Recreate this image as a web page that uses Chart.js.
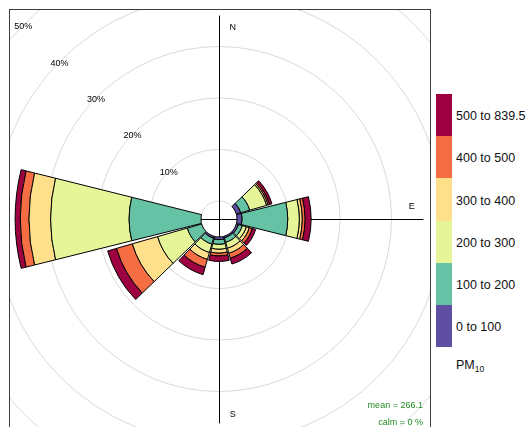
<!DOCTYPE html>
<html>
<head>
<meta charset="utf-8">
<title>PM10 pollution rose</title>
<script src="https://cdn.jsdelivr.net/npm/chart.js@4.4.1/dist/chart.umd.min.js"></script>
<style>
  html, body { margin: 0; padding: 0; background: #fff; }
  body { width: 528px; height: 427px; position: relative; overflow: hidden;
         font-family: "Liberation Sans", Arial, sans-serif; }
  #panel { position: absolute; left: 9px; top: 9px; width: 422px; height: 440px;
           border: 1px solid #3c3c3c; box-sizing: border-box; overflow: hidden; }
  #rose { position: absolute; left: -71px; top: -71px; }
  #key { position: absolute; left: 436px; top: 94px; }
  .swatch { position: absolute; left: 0; width: 16px; }
  .keylab { position: absolute; left: 20px; font-size: 12.5px; color: #111;
            white-space: nowrap; line-height: 14px; }
  #keytitle { position: absolute; left: 456px; top: 358px; font-size: 12.5px; color: #111; }
  #keytitle sub { font-size: 8.5px; vertical-align: -3px; }
</style>
</head>
<body>
<div id="panel"><canvas id="rose" width="560" height="560"></canvas></div>
<div id="key"></div>
<div id="keytitle">PM<sub>10</sub></div>
<script>
// Wind direction bins (degrees, clockwise from north)
const directions = [0, 30, 60, 90, 120, 150, 180, 210, 240, 270, 300, 330];

// PM10 concentration bands and their colours
const bandLabels  = ['0 to 100', '100 to 200', '200 to 300', '300 to 400', '400 to 500', '500 to 839.5'];
const bandColours = ['#5E4FA2', '#66C2A5', '#E6F598', '#FEE08B', '#F46D43', '#9E0142'];

// Frequency (% of hours) in each band, per direction bin
const pm0to100   = [0, 0, 0.85, 0.95, 0.40, 0.30, 0.50, 0.35, 0.0, 0.00, 0, 0];
const pm100to200 = [0, 0, 1.85, 8.90, 0.80, 0.90, 0.90, 1.20, 2.9, 13.96, 0, 0];
const pm200to300 = [0, 0, 3.40, 2.25, 0.80, 1.20, 0.95, 1.70, 6.0, 15.24, 0, 0];
const pm300to400 = [0, 0, 0.30, 0.55, 0.60, 1.00, 0.75, 1.40, 5.1, 4.20, 0, 0];
const pm400to500 = [0, 0, 0.30, 0.55, 0.60, 1.00, 0.55, 1.60, 3.2, 1.70, 0, 0];
const pm500plus  = [0, 0, 0.50, 1.20, 0.70, 1.20, 1.10, 1.50, 1.8, 1.00, 0, 0];

const bandValues = [pm0to100, pm100to200, pm200to300, pm300to400, pm400to500, pm500plus];

// Radial grid (percent) and summary statistics
const gridPercents = [10, 20, 30, 40, 50];
const meanPM10 = 266.1;
const calmPercent = 0;

// ---- radial scale: a hole of 10% of the largest petal sits at the centre ----
const HOLE_PX = 18;          // radius of the central hole
const PX_PER_PERCENT = 5.15; // radial scale
const CANVAS_R = 280;        // half the canvas size (scale drawing area)
const R_MIN = -HOLE_PX / PX_PER_PERCENT;
const R_MAX = R_MIN + CANVAS_R / PX_PER_PERCENT;
const WEDGE_GAP_DEG = 1;     // white gap on each side of a petal

// stack the bands: each dataset holds its cumulative top, plus its base
const totals = directions.map((_, j) => bandValues.reduce((s, b) => s + b[j], 0));
const maxTotal = Math.max(...totals);
const datasets = bandValues.map((vals, b) => {
  const base = directions.map((_, j) => bandValues.slice(0, b).reduce((s, a) => s + a[j], 0));
  return {
    label: bandLabels[b],
    data: vals.map((v, j) => base[j] + v),
    base: base,
    backgroundColor: bandColours[b],
    borderColor: '#000',
    borderWidth: vals.map(v => (v > 0 ? 1 : 0))
  };
});

const rad = d => d * Math.PI / 180;
const LABEL_FONT = '9px "Liberation Sans", Arial, sans-serif';

const rosePlugin = {
  id: 'roseDecor',
  afterUpdate(chart) {
    const scale = chart.scales.r;
    chart.data.datasets.forEach((ds, i) => {
      chart.getDatasetMeta(i).data.forEach((arc, j) => {
        arc.innerRadius = scale.getDistanceFromCenterForValue(ds.base[j]);
        arc.startAngle += rad(WEDGE_GAP_DEG);
        arc.endAngle -= rad(WEDGE_GAP_DEG);
      });
    });
  },
  beforeDatasetsDraw(chart) {
    const { ctx } = chart;
    const s = chart.scales.r;
    const cx = s.xCenter + 0.5, cy = s.yCenter + 0.5;
    const upper = s.getDistanceFromCenterForValue(maxTotal);
    ctx.save();
    ctx.strokeStyle = '#000';
    ctx.lineWidth = 1;
    ctx.beginPath();
    ctx.moveTo(cx - upper, cy); ctx.lineTo(cx + upper, cy);
    ctx.moveTo(cx, cy - upper); ctx.lineTo(cx, cy + upper);
    ctx.stroke();
    // compass letters (W ends up underneath the western petal)
    ctx.fillStyle = '#000';
    ctx.font = LABEL_FONT;
    ctx.textAlign = 'center';
    ctx.textBaseline = 'middle';
    const a = 0.95 * upper, b = 0.07 * upper;
    ctx.fillText('N', cx + b - 1, cy - a + 1.5);
    ctx.fillText('S', cx + b - 1, cy + a + 1.5);
    ctx.fillText('E', cx + a - 1.5, cy - b + 1.5);
    ctx.fillText('W', cx - a - 1.5, cy - b + 1.5);
    ctx.restore();
  },
  afterDatasetsDraw(chart) {
    const { ctx } = chart;
    const s = chart.scales.r;
    const cx = s.xCenter, cy = s.yCenter;
    const upper = s.getDistanceFromCenterForValue(maxTotal);
    ctx.save();
    ctx.fillStyle = '#000';
    ctx.font = LABEL_FONT;
    ctx.textAlign = 'center';
    ctx.textBaseline = 'middle';
    gridPercents.forEach(p => {
      const r = s.getDistanceFromCenterForValue(p);
      ctx.fillText(p + '%', cx - r * Math.SQRT1_2 - 1, cy - r * Math.SQRT1_2 + 2.5);
    });
    ctx.fillStyle = '#228B22';
    ctx.textAlign = 'right';
    ctx.textBaseline = 'alphabetic';
    ctx.fillText('mean = ' + meanPM10.toFixed(1), cx + upper, cy + upper - 14.5);
    ctx.fillText('calm = ' + calmPercent + ' %', cx + upper, cy + upper + 2);
    ctx.restore();
  }
};

new Chart(document.getElementById('rose'), {
  type: 'polarArea',
  data: { labels: directions, datasets: datasets },
  options: {
    responsive: false,
    animation: false,
    events: [],
    layout: { padding: 0, autoPadding: false },
    plugins: { legend: { display: false }, tooltip: { enabled: false } },
    scales: {
      r: {
        min: R_MIN,
        max: R_MAX,
        startAngle: -15,
        ticks: { display: false },
        pointLabels: { display: false },
        angleLines: { display: false },
        grid: { color: '#D9D9D9', lineWidth: 1, circular: true },
        afterBuildTicks: sc => {
          sc.ticks = [R_MIN, 0, ...gridPercents].map(v => ({ value: v }));
        }
      }
    }
  },
  plugins: [rosePlugin]
});

// colour key
const key = document.getElementById('key');
const boxH = 42.2;
bandLabels.slice().reverse().forEach((lab, i) => {
  const col = bandColours[bandColours.length - 1 - i];
  const sw = document.createElement('div');
  sw.className = 'swatch';
  sw.style.top = (i * boxH) + 'px';
  sw.style.height = boxH + 'px';
  sw.style.background = col;
  key.appendChild(sw);
  const t = document.createElement('div');
  t.className = 'keylab';
  t.style.top = (i * boxH + boxH / 2 - 6) + 'px';
  t.textContent = lab;
  key.appendChild(t);
});
</script>
</body>
</html>
